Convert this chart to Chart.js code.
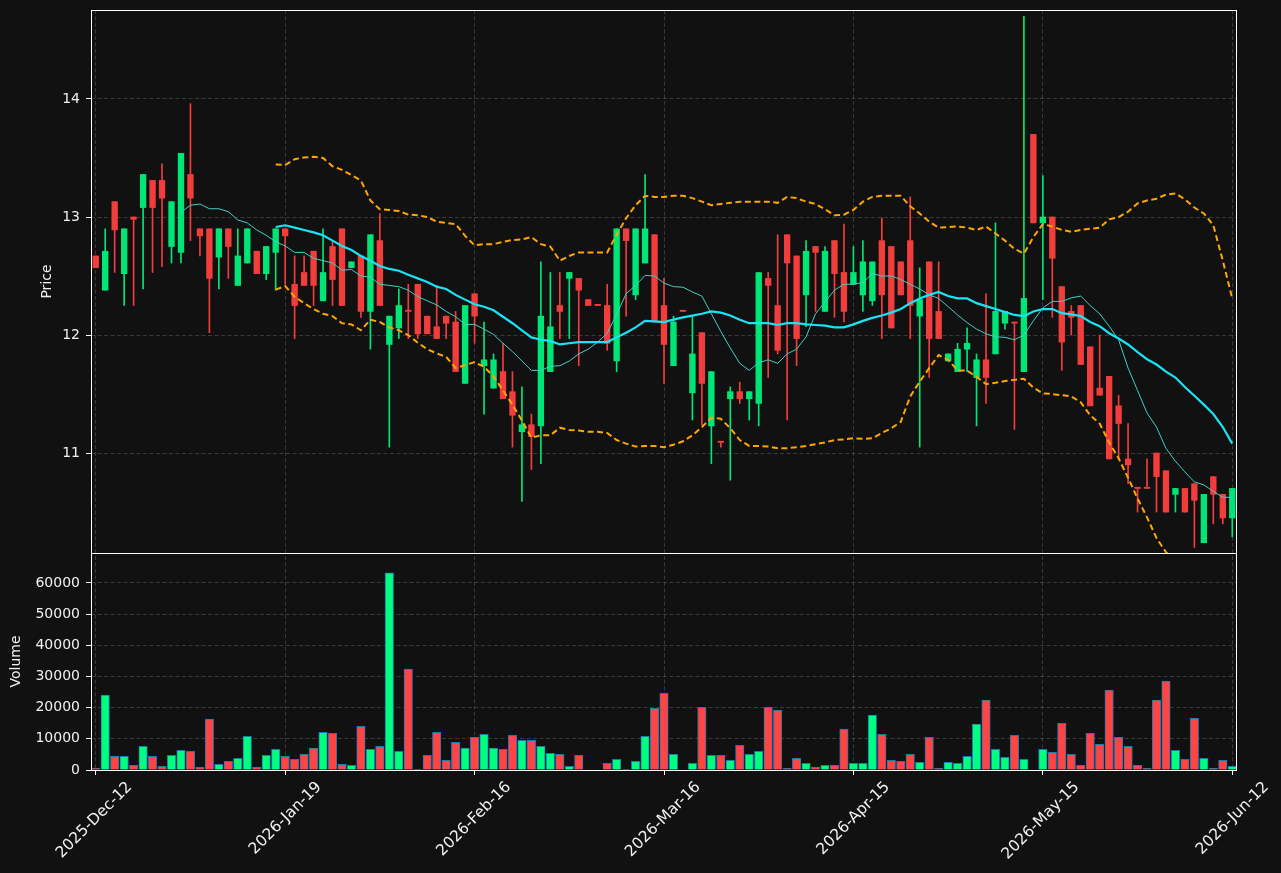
<!DOCTYPE html>
<html>
<head>
<meta charset="utf-8">
<title>Price and volume</title>
<script src="https://cdn.jsdelivr.net/npm/chart.js@4.4.1/dist/chart.umd.min.js"></script>
<style>
  html, body { margin: 0; padding: 0; background: #111111; overflow: hidden; }
  #wrap { position: relative; width: 1281px; height: 873px; }
</style>
</head>
<body>
<div id="wrap"><canvas id="chart"></canvas></div>
<script>
// x tick labels (one every 20 sessions)
const dateLabels = ['2025-Dec-12', '2026-Jan-19', '2026-Feb-16', '2026-Mar-16', '2026-Apr-15', '2026-May-15', '2026-Jun-12'];
const dateTickIndex = [0, 20, 40, 60, 80, 100, 120];
const priceTicks = [11, 12, 13, 14];
const volumeTicks = [0, 10000, 20000, 30000, 40000, 50000, 60000];

const opens = [12.67,12.38,13.13,12.52,13.00,13.08,13.31,13.31,12.75,12.70, 13.36,12.90,12.90,12.66,12.90,12.42,12.61,12.71,12.52,12.70,
  12.90,12.43,12.53,12.71,12.29,12.75,12.90,12.57,12.67,12.20, 12.80,11.92,12.06,12.21,12.43,12.16,12.07,12.16,12.11,11.59,
  12.35,11.74,11.55,11.69,11.52,11.18,11.24,11.23,11.69,12.25, 12.48,12.48,12.30,12.26,12.25,11.78,12.90,12.34,12.61,12.85,
  12.25,11.74,12.21,11.51,12.02,11.23,11.10,11.46,11.52,11.46, 11.42,12.48,12.25,12.85,12.67,12.34,12.75,12.20,12.80,12.53,
  12.43,12.34,12.29,12.80,12.75,12.62,12.80,12.16,12.62,12.20, 11.78,11.69,11.88,11.64,11.79,11.84,12.10,12.11,11.69,13.70,
  12.95,13.00,12.41,12.20,12.25,11.90,11.55,11.65,11.40,10.95, 10.71,10.71,11.00,10.85,10.65,10.70,10.74,10.24,10.80,10.65,
  10.45];
const highs = [12.67,12.90,13.13,12.90,13.00,13.36,13.31,13.45,13.13,13.54, 13.96,12.90,12.90,12.90,12.90,12.90,12.90,12.71,12.75,12.90,
  12.90,12.67,12.67,12.71,12.90,12.80,12.90,12.62,12.67,12.85, 13.03,12.16,12.39,12.43,12.43,12.16,12.42,12.16,12.20,12.25,
  12.35,12.11,11.84,11.93,11.69,11.56,11.33,12.62,12.53,12.53, 12.53,12.48,12.30,12.26,12.43,12.90,12.90,12.90,13.36,12.85,
  12.48,12.16,12.21,12.16,12.02,11.69,11.10,11.56,11.60,11.52, 12.53,12.53,12.85,12.85,12.67,12.80,12.75,12.75,12.80,12.94,
  12.75,12.80,12.62,12.99,12.75,12.62,13.17,12.57,12.62,12.62, 11.84,11.93,12.06,11.84,12.35,12.95,12.20,12.11,14.70,13.70,
  13.35,13.00,12.41,12.25,12.25,11.90,12.00,11.65,11.49,11.25, 10.71,10.95,11.00,10.85,10.70,10.70,10.74,10.65,10.80,10.65,
  10.70];
const lows = [12.57,12.38,12.53,12.25,12.25,12.39,12.53,12.58,12.61,12.61, 12.80,12.67,12.02,12.39,12.48,12.42,12.61,12.52,12.47,12.38,
  12.43,11.97,12.42,12.25,12.29,12.25,12.25,12.57,12.15,11.88, 12.25,11.05,11.97,11.97,11.97,12.01,11.97,11.97,11.69,11.59,
  11.93,11.33,11.55,11.46,11.05,10.59,10.86,10.91,11.69,11.97, 11.97,11.74,12.25,12.25,11.87,11.69,12.16,12.30,12.61,12.11,
  11.59,11.74,12.20,11.28,11.24,10.91,11.05,10.77,11.42,11.28, 11.23,11.64,11.84,11.28,11.74,12.07,12.20,12.20,12.15,12.11,
  12.43,12.20,12.25,11.97,12.06,12.34,11.97,11.05,11.64,11.97, 11.78,11.69,11.69,11.23,11.42,11.84,12.05,11.20,11.69,12.95,
  12.30,12.15,11.70,12.00,11.75,11.40,11.49,10.95,10.95,10.74, 10.50,10.70,10.50,10.50,10.50,10.50,10.20,10.24,10.40,10.40,
  10.29];
const closes = [12.57,12.71,12.89,12.90,12.98,13.36,13.08,13.16,13.13,13.54, 13.16,12.84,12.48,12.90,12.75,12.67,12.90,12.52,12.75,12.90,
  12.84,12.25,12.42,12.42,12.53,12.47,12.25,12.62,12.20,12.85, 12.25,12.16,12.25,12.20,12.01,12.01,11.97,12.10,11.69,12.25,
  12.16,11.79,11.79,11.46,11.32,11.24,11.14,12.16,12.07,12.20, 12.53,12.38,12.25,12.25,11.93,12.90,12.80,12.90,12.90,12.11,
  11.92,12.11,12.20,11.84,11.59,11.69,11.09,11.52,11.46,11.52, 12.53,12.42,11.87,12.61,11.97,12.71,12.70,12.71,12.52,12.20,
  12.53,12.62,12.62,12.34,12.06,12.34,12.25,12.30,11.97,11.97, 11.84,11.88,11.93,11.79,11.64,12.20,12.20,12.10,12.31,12.95,
  13.00,12.65,11.94,12.15,11.75,11.40,11.49,10.95,11.25,10.90, 10.70,10.70,10.80,10.50,10.70,10.50,10.60,10.65,10.65,10.45,
  10.70];
const volumes = [600,24000,4400,4400,1500,7600,4400,1200,4700,6300, 6000,900,16300,1800,2800,3750,10800,900,4700,6650,
  4400,3400,5000,7000,12100,11800,1800,1500,14000,6650, 7600,63200,6000,32400,200,4700,12100,3100,8900,7000,
  10500,11460,7000,6650,11150,9500,9500,7600,5350,5000, 1200,4700,0,0,2150,3400,200,2800,10800,19800,
  24600,5000,0,2150,20100,4700,4700,3100,7900,5000, 6000,20100,19200,500,3750,2150,900,1500,1500,13100,
  2150,2150,17600,11460,3100,2800,5000,2450,10500,500, 2450,2150,4400,14700,22400,6650,4100,11150,3400,0,
  6650,5700,15000,5000,1500,11800,8250,25600,10500,7600, 1500,500,22400,28500,6300,3400,16600,3750,500,3100,
  1200];

// moving averages and bands (null where not drawn)
const ma10 = [null,null,null,null,null,null,null,null,null,13.04, 13.10,13.11,13.07,13.07,13.045,12.975,12.95,12.89,12.845,12.79,
  12.755,12.70,12.70,12.65,12.63,12.61,12.55,12.555,12.50,12.49, 12.43,12.42,12.41,12.38,12.325,12.29,12.255,12.20,12.155,12.09,
  12.09,12.05,12.005,11.93,11.86,11.78,11.70,11.70,11.735,11.74, 11.78,11.84,11.88,11.94,12.015,12.175,12.35,12.42,12.505,12.50,
  12.44,12.41,12.405,12.365,12.33,12.18,12.03,11.89,11.76,11.70, 11.765,11.79,11.76,11.84,11.88,11.985,12.18,12.28,12.38,12.43,
  12.43,12.445,12.52,12.50,12.50,12.47,12.43,12.39,12.34,12.31, 12.24,12.17,12.105,12.05,12.01,11.985,11.98,11.96,12.00,12.12,
  12.23,12.285,12.285,12.315,12.33,12.25,12.18,12.075,11.96,11.72, 11.53,11.34,11.22,11.04,10.93,10.84,10.755,10.73,10.675,10.625,
  10.625];
const ma20 = [null,null,null,null,null,null,null,null,null,null, null,null,null,null,null,null,null,null,null,12.915,
  12.93,12.91,12.89,12.87,12.845,12.80,12.755,12.72,12.67,12.63, 12.585,12.56,12.545,12.51,12.48,12.45,12.41,12.39,12.34,12.30,
  12.26,12.24,12.21,12.155,12.10,12.04,11.98,11.96,11.95,11.92, 11.93,11.94,11.94,11.94,11.94,11.98,12.02,12.065,12.12,12.115,
  12.11,12.13,12.15,12.165,12.18,12.20,12.19,12.165,12.13,12.10, 12.10,12.10,12.085,12.10,12.10,12.09,12.085,12.08,12.065,12.065,
  12.09,12.12,12.145,12.165,12.19,12.22,12.27,12.31,12.34,12.365, 12.33,12.31,12.31,12.27,12.245,12.22,12.195,12.17,12.16,12.20,
  12.22,12.22,12.185,12.175,12.16,12.11,12.075,12.015,11.97,11.92, 11.855,11.795,11.75,11.69,11.64,11.56,11.485,11.41,11.33,11.22,
  11.08];
const bandUpper = [null,null,null,null,null,null,null,null,null,null, null,null,null,null,null,null,null,null,null,13.445,
  13.44,13.49,13.505,13.51,13.50,13.43,13.40,13.355,13.31,13.14, 13.065,13.06,13.05,13.02,13.015,13.00,12.96,12.95,12.94,12.84,
  12.76,12.77,12.77,12.79,12.805,12.81,12.83,12.77,12.75,12.63, 12.67,12.70,12.70,12.70,12.70,12.85,12.99,13.10,13.18,13.17,
  13.17,13.18,13.18,13.16,13.13,13.10,13.11,13.12,13.13,13.13, 13.13,13.13,13.12,13.17,13.16,13.13,13.11,13.065,13.015,13.02,
  13.06,13.13,13.17,13.18,13.18,13.18,13.09,13.03,12.96,12.91, 12.915,12.92,12.91,12.89,12.92,12.86,12.80,12.73,12.69,12.83,
  12.94,12.92,12.89,12.875,12.89,12.90,12.91,12.98,13.00,13.045, 13.115,13.14,13.155,13.19,13.20,13.15,13.08,13.03,12.93,12.63,
  12.31];
const bandLower = [null,null,null,null,null,null,null,null,null,null, null,null,null,null,null,null,null,null,null,12.385,
  12.415,12.325,12.27,12.22,12.18,12.16,12.10,12.09,12.04,12.13, 12.11,12.065,12.04,12.00,11.935,11.88,11.845,11.815,11.72,11.745,
  11.77,11.73,11.65,11.53,11.41,11.275,11.13,11.15,11.15,11.215, 11.195,11.19,11.18,11.18,11.17,11.11,11.08,11.055,11.06,11.06,
  11.05,11.07,11.10,11.15,11.22,11.30,11.29,11.21,11.11,11.06, 11.06,11.055,11.04,11.04,11.05,11.06,11.075,11.09,11.11,11.115,
  11.125,11.12,11.125,11.17,11.21,11.265,11.48,11.605,11.72,11.83, 11.79,11.70,11.70,11.645,11.585,11.595,11.61,11.62,11.63,11.555,
  11.505,11.50,11.49,11.48,11.43,11.32,11.25,11.09,10.955,10.79, 10.615,10.455,10.28,10.16,10.08,9.97,9.89,9.79,9.73,9.81,
  9.85];

const UP_BODY = '#00e676';
const DOWN_BODY = '#f23d3d';
const UP_VOL = '#00ff7f';
const DOWN_VOL = '#ff4444';

const isUp = closes.map((c, i) => c >= opens[i]);
const bodyColors = isUp.map(u => u ? UP_BODY : DOWN_BODY);
const volColors = isUp.map(u => u ? UP_VOL : DOWN_VOL);

function toPoints(arr) {
  const pts = [];
  arr.forEach((v, i) => { if (v !== null) pts.push({ x: i, y: v }); });
  return pts;
}

const wickData = opens.map((o, i) => ({ x: i, y: [lows[i], highs[i]] }));
const bodyData = opens.map((o, i) => ({ x: i, y: [o, closes[i]] }));
const volumeData = volumes.map((v, i) => ({ x: i, y: v }));

Chart.defaults.font.family = "'DejaVu Sans', sans-serif";
Chart.defaults.color = '#f0f0f0';

const gridColor = 'rgba(255,255,255,0.17)';

// white frame round each panel, like the spines of the original
const panelFrames = {
  id: 'panelFrames',
  afterDraw(chart) {
    const { ctx, chartArea, scales } = chart;
    ctx.save();
    ctx.strokeStyle = '#ffffff';
    ctx.lineWidth = 1;
    [scales.y, scales.yv].forEach(s => {
      ctx.strokeRect(Math.round(chartArea.left) + 0.5, Math.round(s.top) + 0.5,
        Math.round(chartArea.right - chartArea.left) - 1, Math.round(s.bottom - s.top));
    });
    ctx.restore();
  }
};

function fixYAxis(scale) {
  scale.width = 91;
  scale.paddingTop = 0;
  scale.paddingBottom = 0;
}

new Chart(document.getElementById('chart'), {
  data: {
    datasets: [
      {
        type: 'line', label: 'MA20', data: toPoints(ma20), yAxisID: 'y',
        borderColor: '#18e4f5', borderWidth: 2.2, pointRadius: 0, order: 1
      },
      {
        type: 'line', label: 'MA10', data: toPoints(ma10), yAxisID: 'y',
        borderColor: '#43cfc6', borderWidth: 1, pointRadius: 0, order: 2
      },
      {
        type: 'line', label: 'Upper band', data: toPoints(bandUpper), yAxisID: 'y',
        borderColor: '#ffa500', borderWidth: 2, borderDash: [6, 3.5], pointRadius: 0, order: 3
      },
      {
        type: 'line', label: 'Lower band', data: toPoints(bandLower), yAxisID: 'y',
        borderColor: '#ffa500', borderWidth: 2, borderDash: [6, 3.5], pointRadius: 0, order: 4
      },
      {
        type: 'bar', label: 'Body', data: bodyData, yAxisID: 'y',
        backgroundColor: bodyColors, barThickness: 5.7, minBarLength: 1.2, grouped: false, order: 5
      },
      {
        type: 'bar', label: 'Wick', data: wickData, yAxisID: 'y',
        backgroundColor: bodyColors, barThickness: 1, grouped: false, order: 6
      },
      {
        type: 'bar', label: 'Volume', data: volumeData, yAxisID: 'yv',
        backgroundColor: volColors, borderColor: '#1f77b4', borderWidth: 1,
        barThickness: 8.5, grouped: false, order: 7
      }
    ]
  },
  options: {
    responsive: true,
    maintainAspectRatio: false,
    animation: false,
    layout: { padding: { top: 10, right: 44, left: 0, bottom: 0 } },
    plugins: { legend: { display: false }, tooltip: { enabled: false } },
    scales: {
      x: {
        type: 'linear', min: -0.5, max: 120.5, offset: false,
        grid: { color: gridColor, offset: false, tickColor: '#ffffff', tickLength: 5, tickBorderDash: [] },
        border: { display: false, dash: [4, 2.5] },
        afterBuildTicks: scale => { scale.ticks = dateTickIndex.map(v => ({ value: v })); },
        afterFit: scale => { scale.height = 103; scale.paddingLeft = 0; scale.paddingRight = 0; },
        ticks: {
          minRotation: 45, maxRotation: 45, labelOffset: 34, padding: 3,
          font: { size: 15.5 }, color: '#f0f0f0',
          callback: v => dateLabels[dateTickIndex.indexOf(v)]
        }
      },
      y: {
        type: 'linear', position: 'left', stack: 'panels', stackWeight: 543, weight: 1,
        min: 10.153, max: 14.754,
        grid: { color: gridColor, tickColor: '#ffffff', tickLength: 5, tickBorderDash: [] },
        border: { display: false, dash: [4, 2.5] },
        afterBuildTicks: scale => { scale.ticks = priceTicks.map(v => ({ value: v })); },
        afterFit: fixYAxis,
        ticks: { font: { size: 14 }, padding: 6, callback: v => String(v) },
        title: { display: true, text: 'Price', font: { size: 14 }, color: '#f0f0f0', padding: { top: 39, bottom: 0 } }
      },
      yv: {
        type: 'linear', position: 'left', stack: 'panels', stackWeight: 217, weight: 0,
        min: 0, max: 69600,
        grid: { color: gridColor, tickColor: '#ffffff', tickLength: 5, tickBorderDash: [] },
        border: { display: false, dash: [4, 2.5] },
        afterBuildTicks: scale => { scale.ticks = volumeTicks.map(v => ({ value: v })); },
        afterFit: fixYAxis,
        ticks: { font: { size: 14 }, padding: 6, callback: v => String(v) },
        title: { display: true, text: 'Volume', font: { size: 14 }, color: '#f0f0f0', padding: { top: 8, bottom: 0 } }
      }
    }
  },
  plugins: [panelFrames]
});
</script>
</body>
</html>
